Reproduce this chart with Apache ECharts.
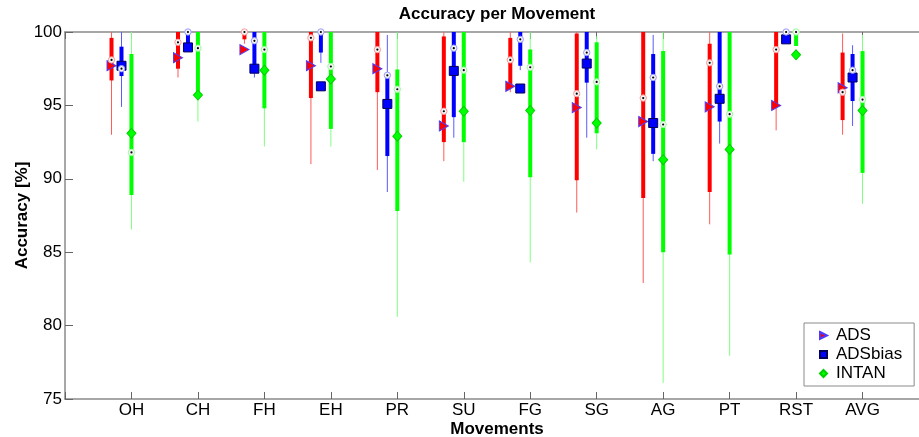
<!DOCTYPE html>
<html><head><meta charset="utf-8">
<script src="https://cdn.jsdelivr.net/npm/echarts@6/dist/echarts.min.js"></script>
<style>html,body{margin:0;padding:0;background:#fff}#c{width:919px;height:437px}</style>
</head><body><div id="c"></div>
<script>
// ---- data ----
const categories = ['OH','CH','FH','EH','PR','SU','FG','SG','AG','PT','RST','AVG'];
const yTicks = [75, 80, 85, 90, 95, 100];

const adsMin  = [93.0, 96.9, 99.2, 91.0, 90.6, 91.2, 95.9, 87.7, 82.9, 86.9, 93.3, 93.0];
const adsQ1   = [96.7, 97.5, 99.5, 95.5, 95.9, 92.5, 96.3, 89.9, 88.7, 89.1, 95.0, 94.0];
const adsMed  = [98.1, 99.3, 100, 99.6, 98.8, 94.6, 98.1, 95.8, 95.5, 97.9, 98.8, 95.9];
const adsQ3   = [99.6, 100, 100, 100, 100, 99.7, 99.6, 99.9, 100, 99.2, 100, 98.6];
const adsMax  = [100, 100, 100, 100, 100, 100, 100, 100, 100, 100, 100, 99.9];
const adsMean = [97.7, 98.25, 98.8, 97.7, 97.5, 93.6, 96.3, 94.85, 93.9, 94.9, 95.0, 96.2];

const biasMin  = [94.9, 98.9, 96.9, 97.9, 89.1, 92.8, 97.4, 92.8, 91.2, 92.4, 99.6, 93.6];
const biasQ1   = [97.0, 98.9, 97.5, 98.6, 91.55, 94.2, 97.7, 96.55, 91.7, 93.9, 99.6, 95.3];
const biasMed  = [97.5, 100, 99.4, 100, 97.05, 98.9, 99.5, 98.6, 96.9, 96.3, 100, 97.4];
const biasQ3   = [99.0, 100, 100, 100, 97.2, 100, 100, 100, 98.5, 100, 100, 98.5];
const biasMax  = [100, 100, 100, 100, 99.8, 100, 100, 100, 99.8, 100, 100, 99.1];
const biasMean = [97.7, 98.95, 97.5, 96.3, 95.1, 97.35, 96.15, 97.85, 93.8, 95.45, 99.5, 96.9];

const intanMin  = [86.55, 93.9, 92.2, 92.2, 80.6, 89.8, 84.3, 92.0, 76.1, 77.95, 99.05, 88.3];
const intanQ1   = [88.9, 95.7, 94.8, 93.4, 87.8, 92.5, 90.1, 93.1, 85.0, 84.85, 99.05, 90.4];
const intanMed  = [91.8, 98.9, 98.8, 97.65, 96.1, 97.4, 97.6, 96.6, 93.7, 94.4, 100, 95.4];
const intanQ3   = [98.5, 100, 100, 100, 97.45, 100, 98.8, 99.3, 98.7, 100, 100, 98.7];
const intanMax  = [100, 100, 100, 100, 100, 100, 100, 99.7, 100, 100, 100, 99.8];
const intanMean = [93.1, 95.7, 97.4, 96.8, 92.9, 94.6, 94.65, 93.8, 91.3, 92.0, 98.45, 94.65];

// ---- styling ----
const FONT = "'Liberation Sans', Arial, sans-serif";
const AXIS_GRAY = '#8a8a8a';
const groups = [
  {name:'ADS', offset:-0.3, min:adsMin, q1:adsQ1, med:adsMed, q3:adsQ3, max:adsMax, mean:adsMean,
   thick:'#ff0000', thin:'#ff5a5a', ring:'#ff9a9a',
   symbol:'path://M0,0L10,5L0,10Z', size:[9,10], fill:'#ff0000', edge:'#4a3cff'},
  {name:'ADSbias', offset:-0.15, min:biasMin, q1:biasQ1, med:biasMed, q3:biasQ3, max:biasMax, mean:biasMean,
   thick:'#0000ff', thin:'#5a5aff', ring:'#9a9aff',
   symbol:'rect', size:9, fill:'#0000ff', edge:'#00005a'},
  {name:'INTAN', offset:0, min:intanMin, q1:intanQ1, med:intanMed, q3:intanQ3, max:intanMax, mean:intanMean,
   thick:'#00ff00', thin:'#80ff80', ring:'#9aff9a',
   symbol:'diamond', size:[9,10], fill:'#00ff00', edge:'#00d000'}
];

const series = [];
groups.forEach(g => {
  const boxData = categories.map((c, i) => [i + 1 + g.offset, g.min[i], g.q1[i], g.q3[i], g.max[i]]);
  series.push({
    name: g.name + ' range', type: 'custom', xAxisIndex: 0, yAxisIndex: 0, z: 2, silent: true,
    data: boxData, clip: true,
    renderItem: (params, api) => {
      const x = api.value(0);
      const pMin = api.coord([x, api.value(1)]);
      const pQ1 = api.coord([x, api.value(2)]);
      const pQ3 = api.coord([x, api.value(3)]);
      const pMax = api.coord([x, api.value(4)]);
      return {type:'group', children:[
        {type:'line', shape:{x1:pMin[0], y1:pMin[1], x2:pMax[0], y2:pMax[1]}, style:{stroke:g.thin, lineWidth:1}},
        {type:'line', shape:{x1:pQ1[0], y1:pQ1[1], x2:pQ3[0], y2:pQ3[1]}, style:{stroke:g.thick, lineWidth:4}}
      ]};
    }
  });
});
groups.forEach(g => {
  series.push({
    name: g.name, type: 'scatter', z: 4, silent: true,
    symbol: g.symbol, symbolSize: g.size,
    itemStyle: {color: g.fill, borderColor: g.edge, borderWidth: 1, opacity: 1},
    data: categories.map((c, i) => [i + 1 + g.offset, g.mean[i]])
  });
});
groups.forEach(g => {
  series.push({
    name: g.name + ' median', type: 'custom', z: 5, silent: true,
    data: categories.map((c, i) => [i + 1 + g.offset, g.med[i]]),
    renderItem: (params, api) => {
      const p = api.coord([api.value(0), api.value(1)]);
      return {type:'group', children:[
        {type:'circle', shape:{cx:p[0], cy:p[1], r:3.2}, style:{fill:'#f4f4f4', stroke:g.ring, lineWidth:1}},
        {type:'circle', shape:{cx:p[0], cy:p[1], r:1.1}, style:{fill:'#000'}}
      ]};
    }
  });
});

const chart = echarts.init(document.getElementById('c'), null, {renderer:'canvas'});
chart.setOption({
  animation: false,
  backgroundColor: '#fff',
  textStyle: {fontFamily: FONT},
  title: {
    text: 'Accuracy per Movement', left: 497, top: 6, textAlign: 'center', padding: 0,
    textStyle: {fontFamily: FONT, fontSize: 17, fontWeight: 'bold', color: '#000'}
  },
  legend: {
    data: groups.map(g => g.name), orient: 'vertical',
    left: 804, top: 323, padding: [3, 12, 3, 15], itemGap: 0,
    itemWidth: 7, itemHeight: 7,
    backgroundColor: '#fff', borderColor: '#8a8a8a', borderWidth: 1, borderRadius: 0,
    selectedMode: false,
    textStyle: {fontFamily: FONT, fontSize: 17, color: '#000', lineHeight: 19, padding: [0,0,0,4]}
  },
  grid: {left: 65, top: 32, width: 864, height: 367, containLabel: false, outerBoundsMode: 'none'},
  xAxis: [{
    type: 'value', position: 'bottom', min: 0, max: 13, interval: 1,
    name: 'Movements', nameLocation: 'middle', nameGap: 22, nameMoveOverlap: false,
    nameTextStyle: {fontFamily: FONT, fontSize: 17, fontWeight: 'bold', color: '#000'},
    axisLine: {show: true, lineStyle: {color: AXIS_GRAY, width: 1.5}},
    axisTick: {show: true, inside: true, length: 7, lineStyle: {color: '#666', width: 1}},
    axisLabel: {margin: 3, fontFamily: FONT, fontSize: 17, color: '#000',
      formatter: v => categories[Math.round(v) - 1] || ''},
    splitLine: {show: false}
  }, {
    type: 'value', position: 'top', min: 0, max: 13, interval: 1,
    axisLine: {show: true, lineStyle: {color: AXIS_GRAY, width: 1.5}},
    axisTick: {show: true, inside: true, length: 7, lineStyle: {color: '#666', width: 1}},
    axisLabel: {show: false}, splitLine: {show: false}
  }],
  yAxis: {
    type: 'value', min: yTicks[0], max: yTicks[yTicks.length - 1], interval: yTicks[1] - yTicks[0],
    name: 'Accuracy [%]', nameLocation: 'middle', nameGap: 34, nameMoveOverlap: false,
    nameTextStyle: {fontFamily: FONT, fontSize: 17, fontWeight: 'bold', color: '#000'},
    axisLine: {show: true, lineStyle: {color: AXIS_GRAY, width: 1.5}},
    axisTick: {show: true, inside: true, length: 8, lineStyle: {color: '#666', width: 1}},
    axisLabel: {margin: 3, fontFamily: FONT, fontSize: 17, color: '#000'},
    splitLine: {show: false}
  },
  series: series
});
</script>
</body></html>
